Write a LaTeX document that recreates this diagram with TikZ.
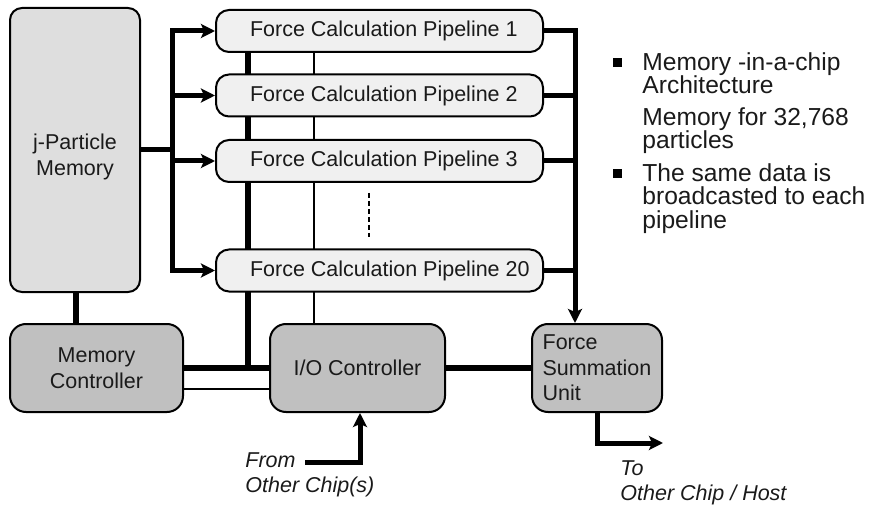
\documentclass[tikz,border=0pt]{standalone}
\usepackage{fontspec}
\setmainfont{Liberation Sans}
\usetikzlibrary{arrows.meta,backgrounds}
\definecolor{memfill}{HTML}{DEDEDE}
\definecolor{pipefill}{HTML}{F0F0F0}
\definecolor{ctrlfill}{HTML}{C0C0C0}
\definecolor{ink}{HTML}{1A1A1A}
% pipeline labels start at a fixed indent and may run past the right padding
\newcommand\pipelabel[1]{\makebox[129.5pt][l]{#1}}
\tikzset{
  unitbox/.style={draw=black, line width=1pt, rounded corners=6.5pt, inner sep=0pt,
    font=\fontsize{10.75}{12.75}\selectfont, text=ink, align=center},
  pipebox/.style={unitbox, fill=pipefill, minimum width=163.5pt, minimum height=21pt,
    inner xsep=17pt},
  ctrlbox/.style={unitbox, fill=ctrlfill, minimum height=44pt, rounded corners=8pt},
  bus/.style={line width=2.5pt, line join=miter, draw=black},
  widebus/.style={line width=3pt, draw=black},
  ctrlline/.style={line width=1pt, draw=black},
  tip/.style={-{Stealth[length=7pt,width=7pt,inset=1.5pt]}},
  note/.style={font=\fontsize{10.75}{12.75}\selectfont\itshape, text=ink, align=left, inner sep=0pt},
  bullettext/.style={font=\fontsize{12.3}{11.75}\selectfont, text=ink, align=left, inner sep=0pt, anchor=north west},
}
\begin{document}
\begin{tikzpicture}[x=0.5pt, y=-0.5pt]
\useasboundingbox (0,0) rectangle (890,508);

% storage and control blocks
\node[unitbox, fill=memfill, minimum width=65pt, minimum height=142pt, rounded corners=6pt] (jpm) at (75,150) {};
\node[font=\fontsize{10.75}{12.75}\selectfont, text=ink, align=center] (jpmtext) at (75,157) {j-Particle\\Memory};
\node[ctrlbox, minimum width=86.5pt] (mc) at (96.5,368) {Memory\\Controller};
\node[ctrlbox, minimum width=87.5pt] (io) at (357.5,368) {I/O Controller};
\node[ctrlbox, minimum width=65pt, align=left] (fsu) at (597,368) {Force\\Summation\\Unit};

% force calculation pipelines
\node[pipebox] (p1)  at (379.5,31)    {\pipelabel{Force Calculation Pipeline 1}};
\node[pipebox] (p2)  at (379.5,95.5)  {\pipelabel{Force Calculation Pipeline 2}};
\node[pipebox] (p3)  at (379.5,161)   {\pipelabel{Force Calculation Pipeline 3}};
\node[pipebox] (p20) at (379.5,270.5) {\pipelabel{Force Calculation Pipeline 20}};

% fixed points of the wiring
\coordinate (split) at (172,150);
\coordinate (rx) at (575,0);
\coordinate (tap) at (248,0);
\coordinate (tv) at (314,0);
\coordinate (inx) at (360,0);
\coordinate (fromstart) at (305,462);
\coordinate (outend) at (663,443);

\begin{scope}[on background layer]
  % broadcast bus from the particle memory to all pipelines
  \draw[bus] (jpm.east |- split) -- (split);
  \draw[bus, tip] (split |- p20.west) -- (split |- p1.west) -- (p1.west);
  \draw[bus, tip] (split |- p1.west) -- (split |- p20.west) -- (p20.west);
  \draw[bus, tip] (split |- p2.west) -- (p2.west);
  \draw[bus, tip] (split |- p3.west) -- (p3.west);
  % results from the pipelines to the summation unit
  \draw[bus, tip] (p1.east) -- (p1.east -| rx) -- (rx |- fsu.north);
  \draw[bus] (p2.east) -- (p2.east -| rx);
  \draw[bus] (p3.east) -- (p3.east -| rx);
  \draw[bus] (p20.east) -- (p20.east -| rx);
  % memory and controller links
  \draw[widebus] (jpm.south -| 76,0) -- (mc.north -| 76,0);
  \draw[widebus] (mc.east) -- (io.west);
  \draw[widebus] (tap |- p1.south) -- (tap |- mc.east);
  \draw[ctrlline] ([yshift=-10.5pt]mc.east) -- ([yshift=-10.5pt]io.west);
  \draw[ctrlline] (tv |- p1.south) -- (tv |- io.north);
  \draw[widebus] (io.east) -- (fsu.west);
  % external ports
  \draw[bus, tip] (fromstart) -- (fromstart -| inx) -- (inx |- io.south);
  \draw[bus, tip] (fsu.south) -- (fsu.south |- outend) -- (outend);
\end{scope}

% remaining pipelines are elided
\draw[line width=1pt, dash pattern=on 2.5pt off 1.5pt] (369,193) -- (369,237);

% port labels
\node[note, anchor=west] (fromlbl) at (245,475) {From\\Other Chip(s)};
\node[note, anchor=west] (tolbl) at (620,483) {To\\Other Chip / Host};

% bullet list
\fill[black] (613,58) rectangle (622,67);
\fill[black] (613,169) rectangle (622,178);
\node[bullettext] (b1) at (642,52) {Memory -in-a-chip\\Architecture};
\node[bullettext] (b1b) at (642,107) {Memory for 32,768\\particles};
\node[bullettext] (b2) at (642,163) {The same data is\\broadcasted to each\\pipeline};
\end{tikzpicture}
\end{document}
